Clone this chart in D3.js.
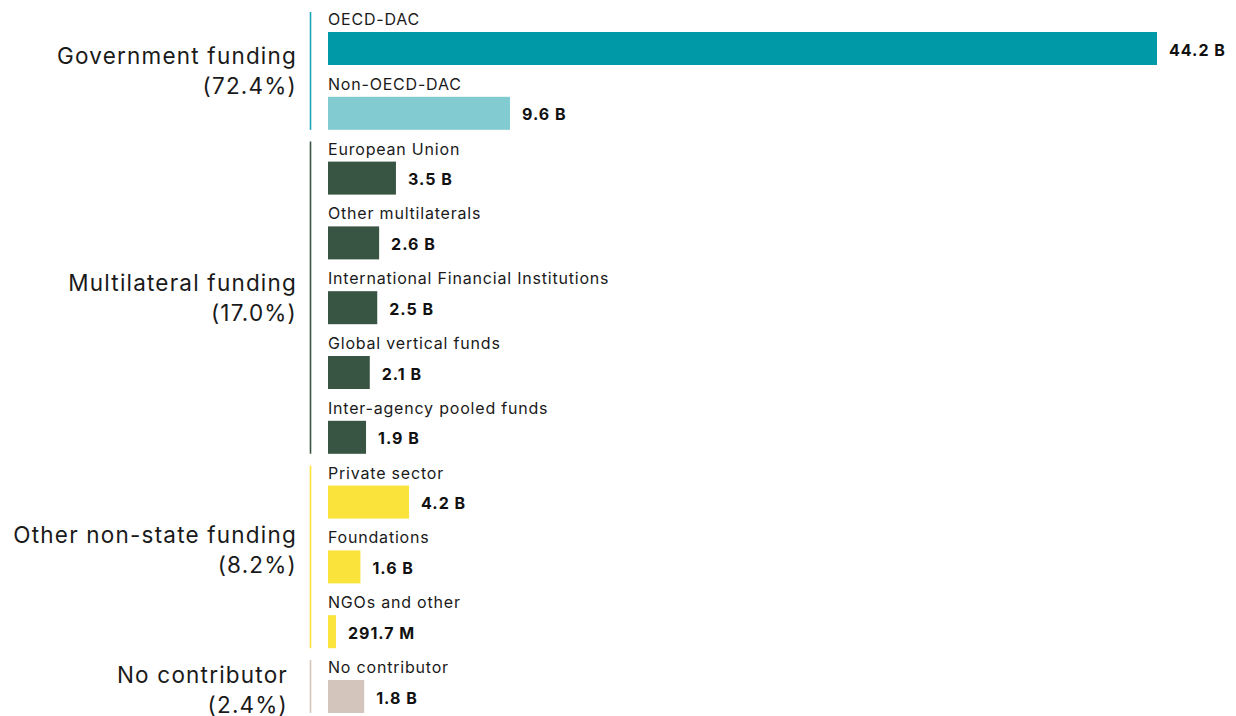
<!DOCTYPE html>
<html>
<head>
<meta charset="utf-8">
<script src="https://cdn.jsdelivr.net/npm/d3@7"></script>
<style>
  html, body { margin: 0; padding: 0; background: #ffffff; }
  svg { display: block; font-family: Inter, "Noto Sans", sans-serif; }
</style>
</head>
<body>
<svg id="chart" width="1236" height="716"></svg>
<script>
// Funding sources (billions of USD)
const categories = [
  "OECD-DAC", "Non-OECD-DAC",
  "European Union", "Other multilaterals", "International Financial Institutions",
  "Global vertical funds", "Inter-agency pooled funds",
  "Private sector", "Foundations", "NGOs and other",
  "No contributor"
];
const values = [44.2, 9.6, 3.5, 2.6, 2.5, 2.1, 1.9, 4.2, 1.6, 0.2917, 1.8];
const valueLabels = ["44.2 B", "9.6 B", "3.5 B", "2.6 B", "2.5 B", "2.1 B", "1.9 B", "4.2 B", "1.6 B", "291.7 M", "1.8 B"];
const rowGroup = [0, 0, 1, 1, 1, 1, 1, 2, 2, 2, 3];
const barColors = ["#0099a8", "#82cbd1", "#375542", "#375542", "#375542", "#375542", "#375542", "#fae33b", "#fae33b", "#fae33b", "#d3c5bb"];

const groupNames = ["Government funding", "Multilateral funding", "Other non-state funding", "No contributor"];
const groupShares = ["(72.4%)", "(17.0%)", "(8.2%)", "(2.4%)"];
const groupColors = ["#1aa6b4", "#375542", "#fae33b", "#d3c5bb"];

const svg = d3.select("#chart");

const rowStep = 64.8;
const y = d3.scaleBand()
  .domain(d3.range(categories.length))
  .range([0, rowStep * categories.length])
  .paddingInner(0).paddingOuter(0);

// bars start at a small stub left of the zero point
const barStart = 328;
const x = d3.scaleLinear().domain([0, 44.2]).range([330.5, 1157]);

const barTop = 32, barH = 33;

const rows = svg.append("g").selectAll("g.row")
  .data(categories.map((c, i) => ({ c, i, v: values[i], lab: valueLabels[i] })))
  .join("g").attr("class", "row")
  .attr("transform", d => `translate(0,${y(d.i)})`);

rows.append("text")
  .attr("x", barStart).attr("y", 25)
  .attr("font-size", 16).attr("letter-spacing", 0.8).attr("fill", "#1a1a1a")
  .text(d => d.c);

rows.append("rect")
  .attr("x", barStart).attr("y", barTop)
  .attr("width", d => x(d.v) - barStart).attr("height", barH)
  .attr("fill", d => barColors[d.i]);

rows.append("text")
  .attr("x", d => x(d.v) + 12).attr("y", barTop + barH / 2 + 1)
  .attr("dominant-baseline", "central")
  .attr("font-size", 16).attr("font-weight", 700).attr("letter-spacing", 1).attr("fill", "#111")
  .text(d => d.lab);

// Group brackets and labels
const labelShift = [0, 0, -7, 2.5];
const groups = groupNames.map((name, g) => {
  const idx = d3.range(categories.length).filter(i => rowGroup[i] === g);
  const top = y(idx[0]) + 12;
  const bottom = y(idx[idx.length - 1]) + barTop + barH;
  return { name, share: groupShares[g], color: groupColors[g], top, bottom, n: idx.length, shift: labelShift[g] };
});

const gg = svg.append("g").selectAll("g.grp").data(groups).join("g").attr("class", "grp");

gg.append("line")
  .attr("x1", 310.5).attr("x2", 310.5)
  .attr("y1", d => d.top).attr("y2", d => d.bottom)
  .attr("stroke", d => d.color).attr("stroke-width", 1.6);

const glab = gg.append("text")
  .attr("text-anchor", "end")
  .attr("font-size", 22.5).attr("letter-spacing", 1.2).attr("fill", "#1a1a1a")
  .attr("transform", d => `translate(${d.n > 1 ? 297 : 288},${(d.top + d.bottom) / 2 + d.shift})`);

glab.append("tspan").attr("x", 0).attr("y", -15).attr("dominant-baseline", "central").text(d => d.name);
glab.append("tspan").attr("x", 0).attr("y", 15).attr("dominant-baseline", "central").text(d => d.share);
</script>
</body>
</html>
